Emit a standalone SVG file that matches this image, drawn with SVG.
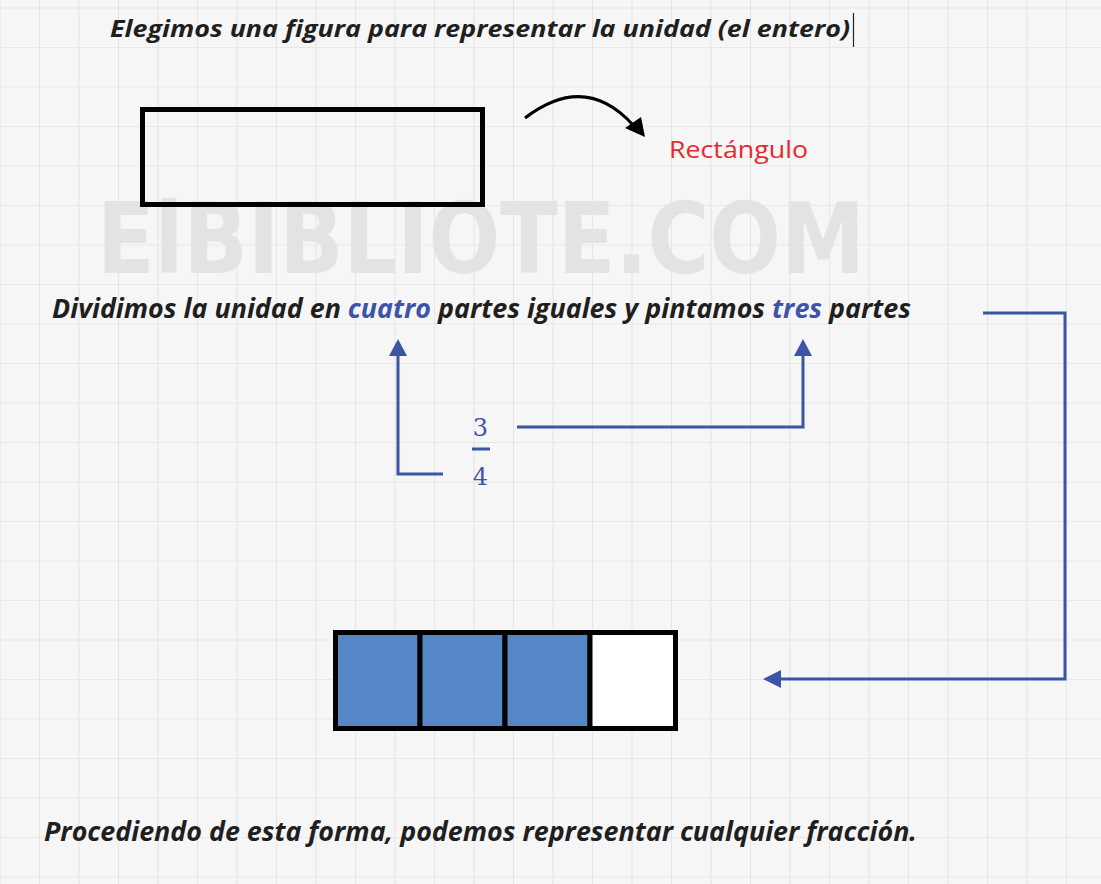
<svg xmlns="http://www.w3.org/2000/svg" width="1101" height="884" viewBox="0 0 1101 884">
<defs>
<pattern id="grid" x="39" y="47" width="39.5" height="39.5" patternUnits="userSpaceOnUse">
<path d="M0,0 H39.5 M0,0 V39.5" fill="none" stroke="#d9d9d9" stroke-width="1.2"/>
</pattern>
</defs>
<style>
.t{font-family:"Open Sans","Liberation Sans",Arial,sans-serif;font-weight:bold;font-style:italic;fill:#1f1f1f}
.b{fill:#3d55a8}
.conn{fill:none;stroke:#3b55a5;stroke-width:3}
.head{fill:#3b55a5}
.cell{stroke:#000;stroke-width:5}
</style>
<rect width="1101" height="884" fill="#f6f6f6"/>
<rect width="1101" height="884" fill="url(#grid)"/>
<text x="97" y="273" font-family="'DejaVu Sans','Liberation Sans',sans-serif" font-weight="bold" font-size="98" fill="#e3e3e3" textLength="768" lengthAdjust="spacingAndGlyphs">ElBIBLIOTE.COM</text>

<g id="title">
<text class="t" x="110" y="37" font-size="24" textLength="740" lengthAdjust="spacingAndGlyphs">Elegimos una figura para representar la unidad (el entero)</text>
<line x1="853.5" y1="13" x2="853.5" y2="47" stroke="#222" stroke-width="1.2"/>
</g>

<g id="rectangulo">
<rect x="142.5" y="109.5" width="340" height="95" fill="none" stroke="#000" stroke-width="5"/>
</g>

<g id="label-rect">
<text x="669" y="158" font-family="'Open Sans','Liberation Sans',Arial,sans-serif" font-size="24" fill="#e8282b" textLength="139" lengthAdjust="spacingAndGlyphs">Rectángulo</text>
</g>

<g id="dividimos">
<text class="t" x="52" y="318" font-size="26" textLength="859" lengthAdjust="spacingAndGlyphs">Dividimos la unidad en <tspan class="b">cuatro</tspan> partes iguales y pintamos <tspan class="b">tres</tspan> partes</text>
</g>

<g id="fraccion" fill="#3d55a8" font-family="'DejaVu Serif','Liberation Serif',serif" font-size="24">
<text x="480.5" y="436" text-anchor="middle">3</text>
<rect x="472" y="447.5" width="18" height="3"/>
<text x="480.5" y="485" text-anchor="middle">4</text>
</g>

<g id="barra">
<rect class="cell" x="335.5" y="632.5" width="84.5" height="96" fill="#5587c7"/>
<rect class="cell" x="420" y="632.5" width="85" height="96" fill="#5587c7"/>
<rect class="cell" x="505" y="632.5" width="85" height="96" fill="#5587c7"/>
<rect class="cell" x="590" y="632.5" width="85.5" height="96" fill="#ffffff"/>
</g>

<g id="final">
<text class="t" x="44" y="841" font-size="26" textLength="873" lengthAdjust="spacingAndGlyphs">Procediendo de esta forma, podemos representar cualquier fracción.</text>
</g>

<g id="connectors">
<path d="M525,118 Q585,72 633,125" fill="none" stroke="#000" stroke-width="3"/>
<polygon points="645,137 625,128 641,117" fill="#000"/>

<path class="conn" d="M443,474 H398 V354"/>
<polygon class="head" points="398,339 389,356 407,356"/>

<path class="conn" d="M517,427 H803 V354"/>
<polygon class="head" points="803,339 794,356 812,356"/>

<path class="conn" d="M983,313 H1065 V679 H780"/>
<polygon class="head" points="763,679 781,670 781,688"/>
</g>
</svg>
